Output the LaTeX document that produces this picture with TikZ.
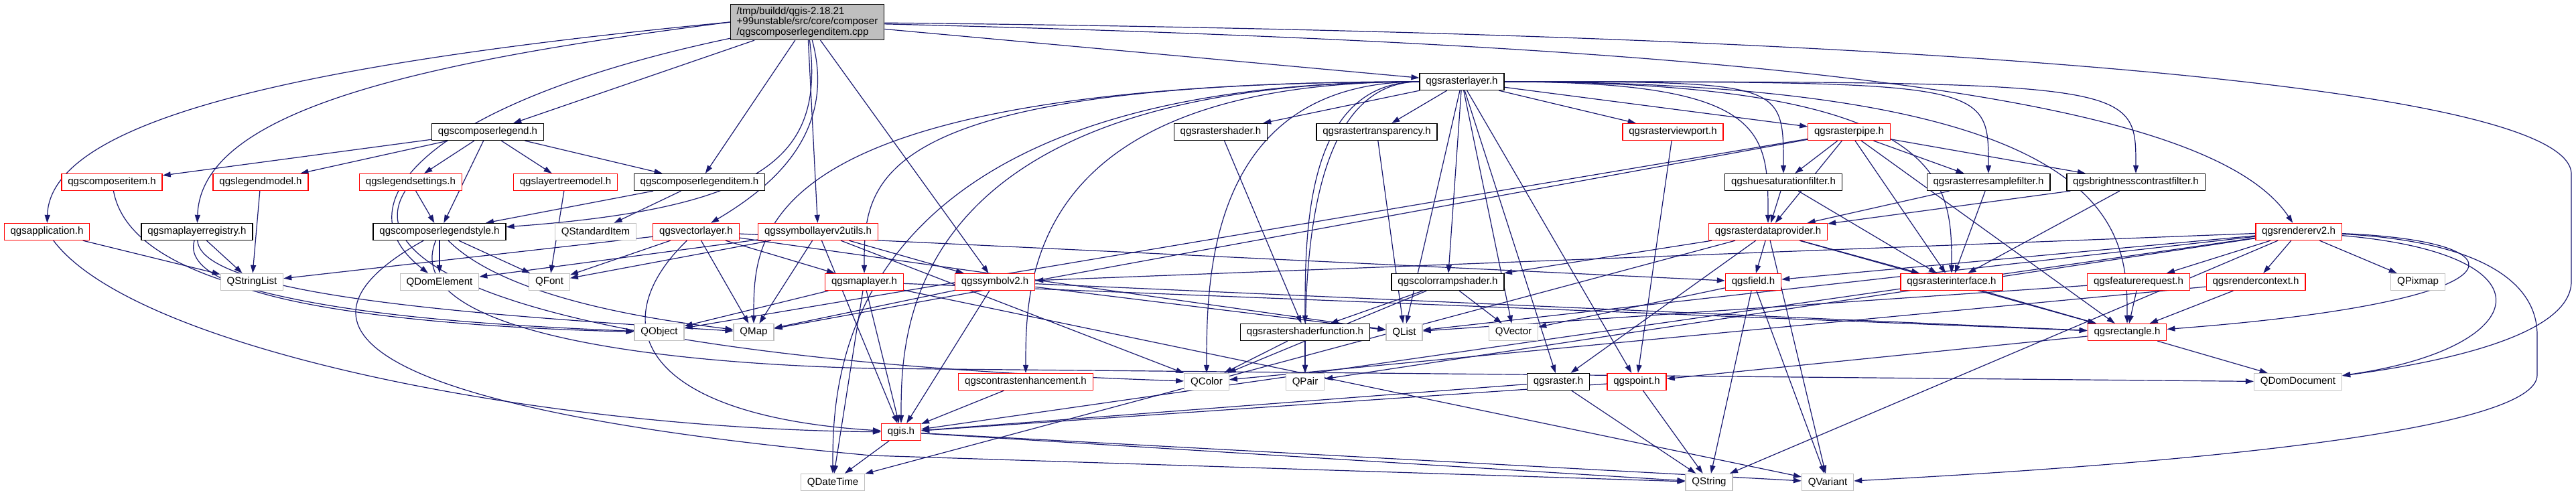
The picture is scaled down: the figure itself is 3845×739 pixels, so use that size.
\documentclass[tikz,border=0pt]{standalone}
\usepackage{fontspec}
\setmainfont{Liberation Sans}
\usetikzlibrary{arrows.meta,backgrounds}

\definecolor{edgeblue}{HTML}{191970}
\definecolor{extgray}{HTML}{BFBFBF}
\definecolor{cutred}{HTML}{FF0000}
\definecolor{rootgray}{HTML}{BFBFBF}

\begin{document}
\begin{tikzpicture}[
        x=0.75pt, y=-0.75pt,
        every node/.style={font=\fontsize{11.3}{11.6}\selectfont},
        hdr/.style={
            draw=black,
            fill=white,
            line width=1pt,
            inner xsep=7pt,
            inner ysep=0pt,
            minimum height=18.75pt
        },
        cuthdr/.style={hdr, draw=cutred},
        qtcls/.style={hdr, draw=extgray},
        srcfile/.style={hdr, fill=rootgray, align=left, inner ysep=3pt},
        dep/.style={draw=edgeblue, line width=0.9pt, -{Triangle[length=9pt,width=6pt]}}
    ]
    \useasboundingbox (0,0) rectangle (3845,739);

    % =========================
    % files
    % =========================
    \node[srcfile] (root) at (1205,33) {/tmp/buildd/qgis-2.18.21\\+99unstable/src/core/composer\\/qgscomposerlegenditem.cpp};

    \node[hdr] (rlayer) at (2182,122) {qgsrasterlayer.h};

    \node[hdr] (legend) at (728,197) {qgscomposerlegend.h};
    \node[hdr] (rshader) at (1822,197) {qgsrastershader.h};
    \node[hdr] (rtransp) at (2055,197) {qgsrastertransparency.h};
    \node[cuthdr] (rviewport) at (2497,197) {qgsrasterviewport.h};
    \node[cuthdr] (rpipe) at (2760,197) {qgsrasterpipe.h};

    \node[cuthdr] (composeritem) at (167,272) {qgscomposeritem.h};
    \node[cuthdr] (legendmodel) at (389,272) {qgslegendmodel.h};
    \node[cuthdr] (legendsettings) at (613,272) {qgslegendsettings.h};
    \node[cuthdr] (layertreemodel) at (844,272) {qgslayertreemodel.h};
    \node[hdr] (legenditem) at (1044,272) {qgscomposerlegenditem.h};
    \node[hdr] (huesat) at (2662,272) {qgshuesaturationfilter.h};
    \node[hdr] (resample) at (2968,272) {qgsrasterresamplefilter.h};
    \node[hdr] (brightness) at (3188,272) {qgsbrightnesscontrastfilter.h};

    \node[cuthdr] (application) at (70,346) {qgsapplication.h};
    \node[hdr] (registry) at (294,346) {qgsmaplayerregistry.h};
    \node[hdr] (legendstyle) at (656,346) {qgscomposerlegendstyle.h};
    \node[qtcls] (stditem) at (889,346) {QStandardItem};
    \node[cuthdr] (vlayer) at (1039,346) {qgsvectorlayer.h};
    \node[cuthdr] (symlayerutils) at (1221,346) {qgssymbollayerv2utils.h};
    \node[cuthdr] (rdataprov) at (2639,346) {qgsrasterdataprovider.h};
    \node[cuthdr] (renderer) at (3431,346) {qgsrendererv2.h};

    \node[qtcls] (qstringlist) at (376,421) {QStringList};
    \node[qtcls] (qdomelement) at (656,421) {QDomElement};
    \node[qtcls] (qfont) at (820,421) {QFont};
    \node[cuthdr] (maplayer) at (1290,421) {qgsmaplayer.h};
    \node[cuthdr] (symbol) at (1485,421) {qgssymbolv2.h};
    \node[hdr] (colorramp) at (2161,421) {qgscolorrampshader.h};
    \node[cuthdr] (field) at (2617,421) {qgsfield.h};
    \node[cuthdr] (rinterface) at (2913,421) {qgsrasterinterface.h};
    \node[cuthdr] (featreq) at (3192,421) {qgsfeaturerequest.h};
    \node[cuthdr] (rendercontext) at (3367,421) {qgsrendercontext.h};
    \node[qtcls] (qpixmap) at (3609,421) {QPixmap};

    \node[qtcls] (qobject) at (984,496) {QObject};
    \node[qtcls] (qmap) at (1125,496) {QMap};
    \node[hdr] (shaderfunc) at (1948,496) {qgsrastershaderfunction.h};
    \node[qtcls] (qlist) at (2096,496) {QList};
    \node[qtcls] (qvector) at (2259,496) {QVector};
    \node[cuthdr] (rectangle) at (3175,496) {qgsrectangle.h};

    \node[cuthdr] (contrast) at (1531,570) {qgscontrastenhancement.h};
    \node[qtcls] (qcolor) at (1801,570) {QColor};
    \node[qtcls] (qpair) at (1948,570) {QPair};
    \node[hdr] (raster) at (2326,570) {qgsraster.h};
    \node[cuthdr] (point) at (2443,570) {qgspoint.h};
    \node[qtcls] (qdomdoc) at (3430,570) {QDomDocument};

    \node[cuthdr] (qgis) at (1345,645) {qgis.h};

    \node[qtcls] (qdatetime) at (1243,720) {QDateTime};
    \node[qtcls] (qstring) at (2551,720) {QString};
    \node[qtcls] (qvariant) at (2728,720) {QVariant};

    \begin{scope}[on background layer]
    % =========================
    % includes of the source file
    % =========================
    \draw[dep] (root.west) .. controls (500,90) and (75,170) .. (application);
    \draw[dep] (root.west) .. controls (600,95) and (300,170) .. (registry);
    \draw[dep] (root) .. controls (650,150) and (500,300) .. (qdomelement);
    \draw[dep] (root) .. controls (1230,230) and (1150,310) .. (legendstyle);
    \draw[dep] (root) .. controls (1250,200) and (1150,280) .. (vlayer);
    \draw[dep] (root) .. controls (2700,70) and (3300,150) .. (renderer);
    \draw[dep] (root) .. controls (2900,50) and (3838,130) .. (3838,260) -- (3838,420)
        .. controls (3838,500) and (3650,540) .. (qdomdoc);
    \foreach \t in {legend,legenditem,symlayerutils,symbol,rlayer}
        \draw[dep] (root) -- (\t);

    % =========================
    % composer side
    % =========================
    \foreach \t in {composeritem,legendmodel,legendsettings,legendstyle,layertreemodel,legenditem}
        \draw[dep] (legend) -- (\t);
    \draw[dep] (composeritem) .. controls (200,450) and (600,480) .. (qobject);
    \draw[dep] (legendmodel) -- (qstringlist);
    \draw[dep] (legendsettings) -- (legendstyle);
    \draw[dep] (legendsettings) .. controls (520,420) and (900,540) .. (qcolor);
    \draw[dep] (layertreemodel) -- (qfont);
    \draw[dep] (legenditem) -- (legendstyle);
    \draw[dep] (legenditem) -- (stditem);

    \draw[dep] (application) -- (qstringlist);
    \draw[dep] (application) .. controls (200,520) and (800,640) .. (qgis);
    \draw[dep] (registry) -- (qstringlist);
    \draw[dep] (registry) .. controls (260,460) and (700,490) .. (qobject);
    \draw[dep] (registry) .. controls (300,440) and (700,470) .. (qmap);

    \draw[dep] (legendstyle) -- (qdomelement);
    \draw[dep] (legendstyle) -- (qfont);
    \draw[dep] (legendstyle) .. controls (760,450) and (1000,480) .. (qmap);
    \draw[dep] (legendstyle) .. controls (450,460) and (430,600) .. (1300,680) -- (qstring);
    \draw[dep] (legendstyle) .. controls (600,480) and (900,540) .. (1300,550) -- (qdomdoc);

    % =========================
    % vector layer and symbols
    % =========================
    \foreach \t in {qstringlist,qfont,qmap,maplayer,qlist,field}
        \draw[dep] (vlayer) -- (\t);
    \draw[dep] (vlayer) .. controls (900,480) and (950,620) .. (qgis);
    \foreach \t in {qdomelement,qfont,qmap,symbol,qgis,qcolor}
        \draw[dep] (symlayerutils) -- (\t);
    \foreach \t in {qobject,qdatetime,qgis,qvariant,rectangle}
        \draw[dep] (maplayer) -- (\t);
    \foreach \t in {qmap,qgis,qlist,rectangle}
        \draw[dep] (symbol) -- (\t);

    % =========================
    % raster layer
    % =========================
    \foreach \t in {rshader,rtransp,rviewport,rpipe,colorramp,qlist,qvector,raster,point}
        \draw[dep] (rlayer) -- (\t);
    \foreach \t in {maplayer,qmap,qcolor,qdatetime,contrast,qpair,shaderfunc,qgis,rdataprov,huesat,resample,brightness,rinterface,rectangle}
        \draw[dep] (rlayer) .. controls (\t |- rlayer) and +(0,-150) .. (\t);
    \draw[dep] (rshader) -- (shaderfunc);
    \draw[dep] (rtransp) -- (qlist);
    \draw[dep] (rviewport) -- (point);
    \foreach \t in {qobject,qmap,rdataprov,huesat,resample,brightness,rinterface,rectangle}
        \draw[dep] (rpipe) -- (\t);
    \foreach \t in {huesat,resample,brightness}{
        \draw[dep] (\t) -- (rdataprov);
        \draw[dep] (\t) -- (rinterface);
    }
    \foreach \t in {colorramp,field,raster,rinterface,rectangle,qdatetime,qvariant}
        \draw[dep] (rdataprov) -- (\t);
    \foreach \t in {shaderfunc,qcolor,qvector}
        \draw[dep] (colorramp) -- (\t);
    \draw[dep] (shaderfunc) -- (qcolor);
    \draw[dep] (shaderfunc) -- (qpair);
    \draw[dep] (contrast) -- (qgis);
    \draw[dep] (raster) -- (qgis);
    \draw[dep] (raster) -- (qstring);
    \draw[dep] (point) -- (qgis);
    \draw[dep] (point) -- (qstring);
    \foreach \t in {qstring,qvariant,qvector}
        \draw[dep] (field) -- (\t);
    \draw[dep] (rinterface) -- (rectangle);
    \draw[dep] (rectangle) -- (qdomdoc);
    \draw[dep] (rectangle) -- (point);
    \foreach \t in {qdatetime,qstring,qvariant}
        \draw[dep] (qgis) -- (\t);

    % =========================
    % renderer
    % =========================
    \foreach \t in {symbol,field,qlist,qgis,qstring,qpair,featreq,rendercontext,qpixmap}
        \draw[dep] (renderer) -- (\t);
    \draw[dep] (renderer) .. controls (3780,360) and (3780,450) .. (rectangle);
    \draw[dep] (renderer) .. controls (3820,380) and (3780,520) .. (qdomdoc);
    \draw[dep] (renderer) .. controls (3700,360) and (3787,420) .. (3787,500) -- (3787,560)
        .. controls (3787,640) and (3300,690) .. (qvariant);
    \draw[dep] (featreq) -- (rectangle);
    \draw[dep] (featreq) -- (qlist);
    \draw[dep] (rendercontext) -- (rectangle);
    \draw[dep] (rendercontext) -- (qcolor);
    \end{scope}

\end{tikzpicture}
\end{document}
